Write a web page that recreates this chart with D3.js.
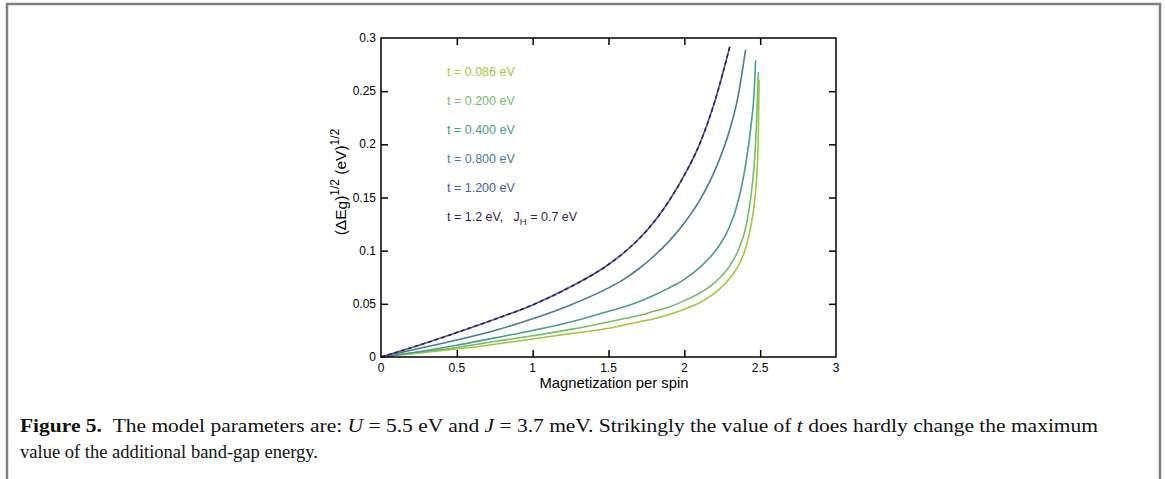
<!DOCTYPE html>
<html lang="en">
<head>
<meta charset="UTF-8">
<title>Figure 5</title>
<script src="https://d3js.org/d3.v7.min.js"></script>
<style>
  body { margin: 0; background: #fff; }
  svg { display: block; }
</style>
</head>
<body>
<script>
// ---- data ----
const xTicks = [0, 0.5, 1, 1.5, 2, 2.5, 3];
const yTicks = [0, 0.05, 0.1, 0.15, 0.2, 0.25, 0.3];

const x086 = [0, 0.25, 0.5, 0.75, 1.0, 1.25, 1.5, 1.6, 1.7, 1.8, 1.9, 2.0, 2.1, 2.2, 2.3, 2.36, 2.41, 2.44, 2.465, 2.48, 2.489, 2.493];
const y086 = [0, 0.0037, 0.0075, 0.012, 0.017, 0.022, 0.027, 0.030, 0.033, 0.036, 0.040, 0.045, 0.051, 0.060, 0.074, 0.087, 0.105, 0.124, 0.149, 0.176, 0.215, 0.261];

const x200 = [0, 0.25, 0.5, 0.75, 1.0, 1.25, 1.5, 1.6, 1.7, 1.8, 1.9, 2.0, 2.1, 2.2, 2.3, 2.36, 2.41, 2.44, 2.46, 2.475, 2.488];
const y200 = [0, 0.0045, 0.009, 0.0145, 0.020, 0.026, 0.033, 0.036, 0.039, 0.043, 0.047, 0.053, 0.060, 0.070, 0.086, 0.102, 0.125, 0.152, 0.180, 0.215, 0.268];

const x400 = [0, 0.25, 0.5, 0.75, 1.0, 1.25, 1.5, 1.6, 1.7, 1.8, 1.9, 2.0, 2.1, 2.2, 2.28, 2.34, 2.38, 2.41, 2.44, 2.46, 2.47];
const y400 = [0, 0.005, 0.011, 0.018, 0.025, 0.033, 0.043, 0.047, 0.052, 0.058, 0.065, 0.073, 0.084, 0.099, 0.117, 0.139, 0.162, 0.186, 0.218, 0.248, 0.279];

const x800 = [0, 0.25, 0.5, 0.75, 1.0, 1.25, 1.5, 1.6, 1.7, 1.8, 1.9, 2.0, 2.1, 2.2, 2.3, 2.35, 2.404];
const y800 = [0, 0.008, 0.016, 0.025, 0.036, 0.049, 0.065, 0.073, 0.083, 0.095, 0.109, 0.126, 0.147, 0.175, 0.214, 0.242, 0.289];

const x1200 = [0, 0.25, 0.5, 0.75, 1.0, 1.25, 1.5, 1.6, 1.7, 1.8, 1.9, 2.0, 2.1, 2.2, 2.3];
const y1200 = [0, 0.011, 0.023, 0.0355, 0.049, 0.066, 0.087, 0.098, 0.111, 0.127, 0.147, 0.171, 0.200, 0.240, 0.292];

// t = 1.2 eV with J_H = 0.7 eV lies on top of the t = 1.2 eV curve
const xJH = x1200;
const yJH = y1200;

const labels = ["t = 0.086 eV", "t = 0.200 eV", "t = 0.400 eV", "t = 0.800 eV", "t = 1.200 eV"];
const colors = ["#a3c83a", "#72bd6b", "#4c9d88", "#4b7b8e", "#4d5b95"];
const jhColor = "#3b1d5a";

const series = [
  {xs: x086, ys: y086},
  {xs: x200, ys: y200},
  {xs: x400, ys: y400},
  {xs: x800, ys: y800},
  {xs: x1200, ys: y1200}
];

// ---- layout ----
const W = 1165, H = 479;
const svg = d3.select("body").append("svg").attr("width", W).attr("height", H);

// page frame
svg.append("path")
  .attr("d", `M7,${H} V4 H1160 V${H}`)
  .attr("fill", "none").attr("stroke", "#808080").attr("stroke-width", 2.5);

const pl = 381, pr = 836, pt = 38, pb = 357;
const x = d3.scaleLinear().domain([0, 3]).range([pl, pr]);
const y = d3.scaleLinear().domain([0, 0.3]).range([pb, pt]);

const fontSans = "'Liberation Sans', Arial, Helvetica, sans-serif";

// curves
const line = d3.line().x(d => x(d[0])).y(d => y(d[1])).curve(d3.curveMonotoneX);
series.forEach((s, i) => {
  svg.append("path")
    .datum(s.xs.map((v, j) => [v, s.ys[j]]))
    .attr("d", line)
    .attr("fill", "none")
    .attr("stroke", colors[i])
    .attr("stroke-width", 1.6);
});
svg.append("path")
  .datum(xJH.map((v, j) => [v, yJH[j]]))
  .attr("d", line)
  .attr("fill", "none")
  .attr("stroke", jhColor)
  .attr("stroke-width", 1.6)
  .attr("stroke-dasharray", "4,3");

// axes (ticks inward on all four sides)
const tickLen = 7;
svg.append("rect")
  .attr("x", pl).attr("y", pt).attr("width", pr - pl).attr("height", pb - pt)
  .attr("fill", "none").attr("stroke", "#000").attr("stroke-width", 1.5);

const inner = v => v > 0 && v < 3;
svg.append("g").attr("transform", `translate(0,${pb})`)
  .call(d3.axisBottom(x).tickValues(xTicks.filter(inner)).tickSizeInner(-tickLen).tickSizeOuter(0).tickFormat(""))
  .call(g => g.select(".domain").remove());
svg.append("g").attr("transform", `translate(0,${pt})`)
  .call(d3.axisTop(x).tickValues(xTicks.filter(inner)).tickSizeInner(-tickLen).tickSizeOuter(0).tickFormat(""))
  .call(g => g.select(".domain").remove());
const innerY = v => v > 0 && v < 0.3;
svg.append("g").attr("transform", `translate(${pl},0)`)
  .call(d3.axisLeft(y).tickValues(yTicks.filter(innerY)).tickSizeInner(-tickLen).tickSizeOuter(0).tickFormat(""))
  .call(g => g.select(".domain").remove());
svg.append("g").attr("transform", `translate(${pr},0)`)
  .call(d3.axisRight(y).tickValues(yTicks.filter(innerY)).tickSizeInner(-tickLen).tickSizeOuter(0).tickFormat(""))
  .call(g => g.select(".domain").remove());
svg.selectAll(".tick line").attr("stroke", "#000").attr("stroke-width", 1.5);

// tick labels
svg.append("g").selectAll("text").data(xTicks).join("text")
  .attr("x", d => x(d)).attr("y", pb + 15)
  .attr("text-anchor", "middle")
  .attr("font-family", fontSans).attr("font-size", 12)
  .text(d => d3.format("")(d));
svg.append("g").selectAll("text").data(yTicks).join("text")
  .attr("x", pl - 5).attr("y", d => y(d) + 4)
  .attr("text-anchor", "end")
  .attr("font-family", fontSans).attr("font-size", 12)
  .text(d => d3.format("")(d));

// axis titles
svg.append("text")
  .attr("x", 614).attr("y", 388)
  .attr("text-anchor", "middle")
  .attr("font-family", fontSans).attr("font-size", 14.8)
  .text("Magnetization per spin");

const yl = svg.append("text")
  .attr("transform", `translate(346,182) rotate(-90)`)
  .attr("text-anchor", "middle")
  .attr("font-family", fontSans).attr("font-size", 15.5);
yl.append("tspan").text("(ΔE");
yl.append("tspan").attr("dy", 1).text("g");
yl.append("tspan").attr("dy", -1).text(")");
yl.append("tspan").attr("dy", -7).attr("font-size", 12).text("1/2");
yl.append("tspan").attr("dy", 7).text(" (eV)");
yl.append("tspan").attr("dy", -7).attr("font-size", 12).text("1/2");

// legend
const legY = [71.7, 100.5, 129.5, 158.3, 187.3, 216.5];
labels.forEach((l, i) => {
  svg.append("text")
    .attr("x", 447).attr("y", legY[i] + 4.5)
    .attr("font-family", fontSans).attr("font-size", 12.5)
    .attr("fill", colors[i])
    .text(l);
});
const jl = svg.append("text")
  .attr("x", 447).attr("y", legY[5] + 4.5)
  .attr("font-family", fontSans).attr("font-size", 12.5)
  .attr("fill", jhColor)
  .style("white-space", "pre");
jl.append("tspan").text("t = 1.2 eV,   J");
jl.append("tspan").attr("dy", 4).attr("font-size", 9.5).text("H");
jl.append("tspan").attr("dy", -4).text(" = 0.7 eV");

// caption
const fontSerif = "'Liberation Serif', 'DejaVu Serif', serif";
const c1 = svg.append("text").attr("x", 20).attr("y", 432)
  .attr("font-family", fontSerif).attr("font-size", 18.5).attr("fill", "#111")
  .attr("textLength", 1078).attr("lengthAdjust", "spacingAndGlyphs");
c1.append("tspan").attr("font-weight", "bold").text("Figure 5.");
c1.append("tspan").text("\u2002The model parameters are: ");
c1.append("tspan").attr("font-style", "italic").text("U");
c1.append("tspan").text(" = 5.5 eV and ");
c1.append("tspan").attr("font-style", "italic").text("J");
c1.append("tspan").text(" = 3.7 meV. Strikingly the value of ");
c1.append("tspan").attr("font-style", "italic").text("t");
c1.append("tspan").text(" does hardly change the maximum");
svg.append("text").attr("x", 20).attr("y", 458)
  .attr("font-family", fontSerif).attr("font-size", 18.5).attr("fill", "#111")
  .attr("textLength", 298).attr("lengthAdjust", "spacingAndGlyphs")
  .text("value of the additional band-gap energy.");
</script>
</body>
</html>
